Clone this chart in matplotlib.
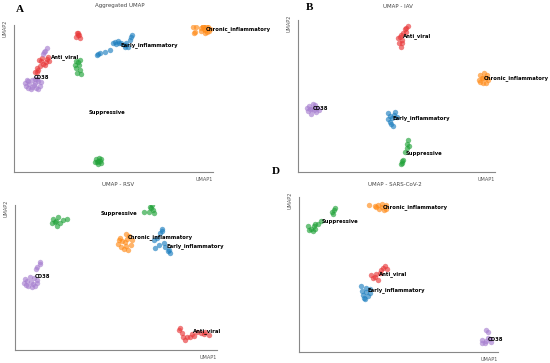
import matplotlib
matplotlib.use("Agg")
import matplotlib.pyplot as plt

# ---------------- data (UMAP coordinates, arbitrary units 0-100) ----------------
clusters = ["Anti_viral", "CD38", "Chronic_inflammatory", "Early_inflammatory", "Suppressive"]
colors = {"Anti_viral": "#e8393a", "CD38": "#a77fd0", "Chronic_inflammatory": "#ff8c1a",
          "Early_inflammatory": "#1f80c0", "Suppressive": "#22a33a"}

# Panel A: aggregated
A_anti = [(31.8, 94.3), (32.8, 93.2), (31.4, 92.0), (33.1, 91.4), (32.3, 94.8), (32.0, 93.0),
          (10.5, 68.2), (11.7, 70.5), (13.0, 72.0), (14.4, 73.4), (16.1, 75.0), (12.7, 76.1),
          (13.9, 77.3), (17.2, 78.0), (17.7, 75.7), (15.6, 72.7), (11.4, 68.2), (12.2, 69.5),
          (16.8, 76.8), (13.5, 75.2)]
A_cd38 = [(14.4, 80.2), (15.6, 82.5), (16.7, 84.3), (15.0, 81.3),
          (9.8, 59.5), (7.0, 61.8), (12.0, 62.0), (6.0, 58.5), (13.0, 58.8), (8.5, 56.5),
          (10.5, 63.2), (7.5, 59.8), (11.0, 57.2), (5.5, 60.8), (13.5, 61.0), (8.8, 62.8),
          (10.8, 60.5), (7.2, 57.0), (12.2, 56.8), (9.2, 58.0), (6.5, 62.8), (11.8, 63.5)]
A_chronic = [(96.2, 96.9), (94.8, 98.8), (97.5, 98.6), (94.2, 96.0), (98.0, 96.0), (95.8, 94.5),
             (96.6, 99.8), (93.8, 97.8), (98.4, 97.6), (95.2, 99.3), (97.2, 95.0), (95.5, 97.4),
             (90.0, 98.9), (90.5, 94.3), (91.5, 98.5), (91.0, 95.2)]
A_early = [(41.5, 79.5), (43.1, 80.7), (45.7, 81.8), (48.2, 83.0), (50.7, 88.6), (52.3, 89.3),
           (54.0, 87.5), (55.7, 86.4), (57.4, 85.2), (56.5, 88.0), (59.0, 92.0), (59.5, 93.2),
           (58.2, 89.8), (49.8, 87.5), (53.0, 88.0), (56.0, 85.0), (42.3, 80.0), (51.5, 86.8)]
A_supp = [(31.4, 75.7), (33.1, 76.1), (30.6, 72.7), (32.8, 72.7), (31.1, 70.5), (33.1, 69.3),
          (33.6, 66.6), (31.8, 67.5), (32.0, 74.5),
          (42.3, 7.5), (41.0, 8.8), (43.5, 8.6), (40.8, 6.5), (43.8, 6.2), (42.0, 5.2),
          (42.5, 9.8), (41.5, 7.0), (43.0, 7.5)]
A_labels = {"Anti_viral": (18.4, 78.0), "CD38": (9.7, 64.3), "Chronic_inflammatory": (96.3, 97.0),
            "Early_inflammatory": (53.5, 86.4), "Suppressive": (37.3, 40.5)}

# Panel B: IAV
B_anti = [(52.4, 82.5), (51.4, 84.7), (52.7, 86.9), (51.9, 89.1), (53.5, 91.2), (54.4, 93.9),
          (55.7, 96.1), (54.7, 92.3), (51.0, 88.0), (53.0, 85.1), (52.3, 90.4), (55.0, 95.0)]
B_cd38 = [(7.1, 41.4), (5.5, 43.5), (8.5, 43.8), (5.0, 40.0), (9.0, 39.5), (6.8, 38.0),
          (7.5, 45.0), (4.6, 42.0), (9.8, 41.8), (6.2, 41.5), (8.0, 40.6), (10.5, 40.8)]
B_chronic = [(94.1, 61.7), (92.5, 63.5), (95.8, 63.6), (91.8, 60.5), (96.3, 60.2), (93.8, 58.4),
             (94.6, 65.0), (92.6, 59.0), (95.4, 58.6), (93.3, 62.0), (95.5, 61.8)]
B_early = [(47.6, 35.4), (45.9, 38.7), (49.3, 39.8), (47.0, 31.7), (45.6, 34.6), (48.5, 37.6),
           (50.2, 36.5), (46.5, 33.0), (48.0, 30.5), (46.8, 37.0)]
B_supp = [(55.7, 21.2), (56.4, 17.3), (55.2, 18.6), (54.4, 12.9), (52.7, 7.0), (52.4, 5.5),
          (53.5, 8.1), (53.0, 6.0), (55.5, 16.0)]
B_labels = {"Anti_viral": (53.5, 89.5), "CD38": (7.6, 41.6), "Chronic_inflammatory": (94.4, 61.7),
            "Early_inflammatory": (48.0, 35.4), "Suppressive": (54.7, 12.0)}

# Panel C: RSV
C_anti = [(81.0, 13.8), (82.6, 11.5), (84.3, 6.9), (85.1, 9.2), (87.6, 11.0), (83.1, 9.2),
          (90.1, 12.6), (94.2, 12.6), (95.9, 10.3), (93.4, 11.0), (86.4, 8.7), (81.8, 14.9),
          (88.5, 10.0), (92.0, 11.8)]
C_cd38 = [(12.4, 60.9), (11.1, 57.0), (10.4, 55.6), (12.2, 59.3),
          (7.8, 47.1), (5.0, 49.0), (9.5, 49.8), (4.5, 46.0), (10.8, 46.5), (6.5, 44.0),
          (8.5, 43.5), (6.0, 47.8), (11.0, 48.5), (7.2, 50.5), (9.0, 45.2), (5.5, 44.8),
          (10.0, 44.0)]
C_chronic = [(54.5, 74.7), (52.0, 77.5), (56.5, 78.5), (51.0, 73.0), (57.5, 72.5), (54.0, 70.0),
             (55.0, 80.0), (52.5, 70.8), (56.0, 69.2), (53.0, 75.5), (58.0, 76.0), (55.5, 76.5),
             (51.5, 76.0), (54.8, 72.0)]
C_early = [(72.7, 83.2), (71.6, 80.5), (70.2, 77.0), (69.4, 70.1), (71.1, 72.4), (73.6, 73.6),
           (76.0, 69.0), (76.9, 67.1), (74.4, 71.3), (68.9, 75.9), (73.0, 82.0), (75.5, 68.2)]
C_supp = [(19.0, 90.1), (21.5, 91.5), (18.2, 87.4), (20.7, 85.5), (22.3, 87.8), (19.8, 88.5),
          (23.9, 89.7), (25.6, 90.3), (20.5, 89.0),
          (67.8, 100.0), (66.1, 95.4), (68.6, 94.3), (63.9, 94.9), (67.3, 97.7), (68.3, 96.6),
          (66.8, 98.8)]
C_labels = {"Anti_viral": (88.1, 13.3), "CD38": (9.6, 50.6), "Chronic_inflammatory": (55.9, 78.2),
            "Early_inflammatory": (74.9, 71.7), "Suppressive": (42.5, 94.3)}

# Panel D: SARS-CoV-2
D_anti = [(42.2, 54.4), (41.0, 53.1), (44.0, 53.8), (36.3, 49.5), (38.0, 48.4), (39.7, 46.2),
          (38.9, 50.5), (40.5, 51.0), (37.2, 47.7), (43.0, 55.5)]
D_cd38 = [(94.1, 14.0), (95.0, 12.9), (94.1, 7.1), (92.0, 8.0), (96.0, 8.5), (91.8, 6.0),
          (96.3, 6.2), (93.5, 5.5), (95.0, 9.3)]
D_chronic = [(41.7, 93.5), (39.5, 94.8), (43.8, 94.6), (40.0, 92.0), (43.5, 92.2), (41.5, 95.6),
             (42.5, 91.5), (38.5, 93.3), (35.2, 94.6), (38.0, 94.0)]
D_early = [(33.8, 38.7), (31.3, 42.4), (32.0, 37.0), (35.5, 40.5), (32.5, 35.0), (34.8, 36.0),
           (31.5, 39.5), (35.8, 38.0), (33.5, 41.0), (33.0, 34.5)]
D_supp = [(17.6, 91.8), (16.6, 90.3), (18.3, 93.1), (17.3, 89.2), (11.2, 84.5), (9.5, 82.8),
          (7.9, 82.4), (6.2, 79.6), (4.5, 81.0), (7.5, 81.0), (5.0, 78.5), (7.0, 77.8), (8.0, 79.5)]
D_labels = {"Anti_viral": (40.2, 50.5), "CD38": (95.0, 8.2), "Chronic_inflammatory": (42.2, 93.5),
            "Early_inflammatory": (34.3, 39.8), "Suppressive": (11.2, 83.9)}

panels = [
    ("Aggregated UMAP", "A", [A_anti, A_cd38, A_chronic, A_early, A_supp], A_labels),
    ("UMAP - IAV", "B", [B_anti, B_cd38, B_chronic, B_early, B_supp], B_labels),
    ("UMAP - RSV", "", [C_anti, C_cd38, C_chronic, C_early, C_supp], C_labels),
    ("UMAP - SARS-CoV-2", "D", [D_anti, D_cd38, D_chronic, D_early, D_supp], D_labels),
]

# ---------------- layout ----------------
W, H = 550, 363
fig = plt.figure(figsize=(W / 100, H / 100), dpi=100)

# axes boxes in pixels: left, right, top, bottom
boxes = [(14, 213, 25, 172), (298, 495, 20, 172), (15, 217, 205, 350), (299, 498, 197, 352)]
title_pos = [(120, 6), (398, 7), (118, 184), (395, 184)]
letter_pos = [(20, 10), (310, 7), None, (276, 172)]

for (title, letter, pts_list, labels), (l, r, t, b), (tx, ty), lp in zip(panels, boxes, title_pos, letter_pos):
    ax = fig.add_axes([l / W, 1 - b / H, (r - l) / W, (b - t) / H])
    for name, pts in zip(clusters, pts_list):
        xs = [p[0] for p in pts]
        ys = [p[1] for p in pts]
        ax.scatter(xs, ys, s=15, c=colors[name], alpha=0.65, linewidths=0)
    for name, (lx, ly) in labels.items():
        ax.text(lx, ly, name, fontsize=3.8, fontweight="bold", ha="left", va="center", color="black")
    ax.set_xlim(0, 100)
    ax.set_ylim(0, 100)
    for s in ["top", "right"]:
        ax.spines[s].set_visible(False)
    for s in ["left", "bottom"]:
        ax.spines[s].set_color("#888888")
        ax.spines[s].set_linewidth(0.8)
    ax.set_xticks([])
    ax.set_yticks([])
    ax.text(1.0, -0.035, "UMAP1", transform=ax.transAxes, fontsize=3.6, color="#555555",
            ha="right", va="top")
    ax.text(-0.045, 0.98, "UMAP2", transform=ax.transAxes, fontsize=3.6, color="#555555",
            ha="center", va="center", rotation=90)
    fig.text(tx / W, 1 - ty / H, title, fontsize=4, color="#444444", ha="center", va="center")
    if lp is not None:
        fig.text(lp[0] / W, 1 - lp[1] / H, letter, fontsize=8, fontweight="bold",
                 family="Liberation Serif", ha="center", va="center")

fig.savefig("out.png", dpi=100)
